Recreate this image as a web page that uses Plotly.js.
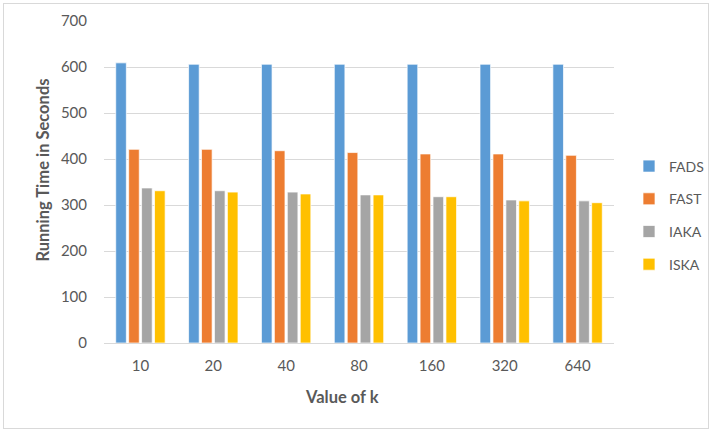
<!DOCTYPE html>
<html>
<head>
<meta charset="utf-8">
<script src="https://cdn.plot.ly/plotly-3.0.1.min.js"></script>
<style>
  html, body { margin: 0; padding: 0; background: #fff; }
  #wrap { position: relative; width: 713px; height: 432px; }
  #chart { width: 713px; height: 432px; }
  #frame { position: absolute; left: 3px; top: 3px; width: 704px; height: 424px; border: 1px solid #D9D9D9; pointer-events: none; }
</style>
</head>
<body>
<div id="wrap"><div id="chart"></div><div id="frame"></div></div>
<script>
const categories = ["10", "20", "40", "80", "160", "320", "640"];
const FADS = [609, 606, 606, 606, 606, 606, 606];
const FAST = [421, 421, 418, 414, 411, 411, 408];
const IAKA = [337, 331, 328, 322, 318, 311, 309];
const ISKA = [331, 328, 324, 322, 318, 309, 305];
const seriesNames = ["FADS", "FAST", "IAKA", "ISKA"];
const seriesValues = [FADS, FAST, IAKA, ISKA];
const colors = ["#5B9BD5", "#ED7D31", "#A5A5A5", "#FFC000"];

const font = "Lato, 'Open Sans', 'Liberation Sans', sans-serif";

const traces = seriesNames.map((name, i) => ({
  type: "bar",
  name: name,
  x: categories,
  y: seriesValues[i],
  legendgroup: name,
  marker: { color: colors[i], line: { color: "rgba(255,255,255,0.7)", width: 1 } },
  hoverinfo: "x+y+name"
}));

const layout = {
  width: 713,
  height: 432,
  margin: { l: 103.5, r: 98.5, t: 21, b: 89, pad: 0, autoexpand: false },
  paper_bgcolor: "#ffffff",
  plot_bgcolor: "#ffffff",
  barmode: "group",
  bargap: 0.29,
  bargroupgap: 0.18,
  font: { family: font, size: 14, color: "#595959" },
  xaxis: {
    type: "category",
    showgrid: false,
    showline: false,
    zeroline: false,
    ticks: "",
    ticklabelstandoff: 12,
    tickfont: { family: font, size: 15, color: "#595959" },
    automargin: false
  },
  yaxis: {
    range: [0, 700],
    dtick: 100,
    tick0: 0,
    showgrid: true,
    gridcolor: "#D9D9D9",
    gridwidth: 1,
    zeroline: true,
    zerolinecolor: "#D9D9D9",
    zerolinewidth: 1,
    showline: false,
    ticks: "",
    ticklabelstandoff: 16,
    tickfont: { family: font, size: 15, color: "#595959" },
    automargin: false
  },
  showlegend: true,
  legend: {
    xref: "container",
    yref: "container",
    x: 629 / 713,
    xanchor: "left",
    y: 1 - 215.5 / 432,
    yanchor: "middle",
    font: { family: font, size: 14, color: "#595959" },
    tracegroupgap: 11.5,
    itemwidth: 30,
    bgcolor: "rgba(0,0,0,0)"
  },
  annotations: [
    {
      text: "<b>Running Time in Seconds</b>",
      xref: "paper", yref: "paper",
      x: (42 - 103.5) / 511, y: (343 - 170) / 322,
      xanchor: "center", yanchor: "middle",
      textangle: -90, showarrow: false,
      font: { family: font, size: 16.5, color: "#595959" }
    },
    {
      text: "<b>Value of k</b>",
      xref: "paper", yref: "paper",
      x: (342 - 103.5) / 511, y: (343 - 397) / 322,
      xanchor: "center", yanchor: "middle",
      showarrow: false,
      font: { family: font, size: 16.5, color: "#595959" }
    }
  ]
};

Plotly.newPlot("chart", traces, layout, { displayModeBar: false, staticPlot: true });
</script>
</body>
</html>
